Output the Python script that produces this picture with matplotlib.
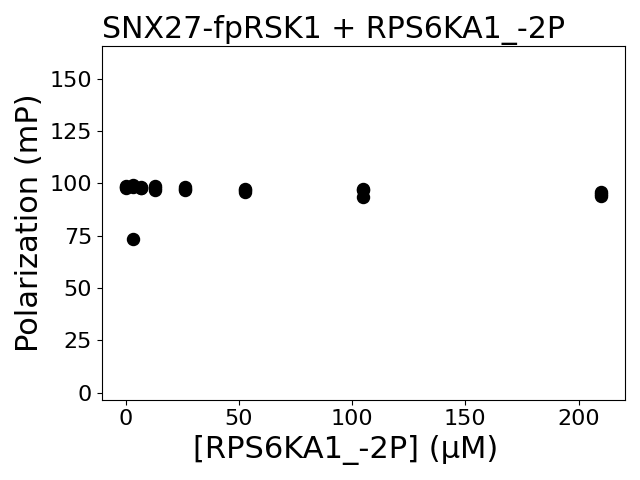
import matplotlib.pyplot as plt
import numpy as np

conc = [0, 3.28, 6.56, 13.125, 26.25, 52.5, 105, 210]
rep1 = [99.0, 99.5, 98.5, 99.0, 98.5, 97.5, 97.5, 96.0]
rep2 = [98.5, 98.5, 98.0, 97.0, 97.0, 96.0, 93.5, 94.0]
rep3 = [98.0, 73.5, 97.8, 98.0, 97.5, 97.0, 97.0, 95.0]

fig, ax = plt.subplots(figsize=(6.4, 4.8), dpi=100)
for rep in (rep1, rep2, rep3):
    ax.scatter(conc, rep, s=75, color="black")

ax.set_ylim(-3.3, 165.5)
ax.set_xlim(-10.5, 220.5)
ax.set_yticks(np.arange(0, 151, 25))
ax.set_xlabel("[RPS6KA1_-2P] (μM)", fontsize=22)
ax.set_ylabel("Polarization (mP)", fontsize=22)
ax.set_title("SNX27-fpRSK1 + RPS6KA1_-2P", fontsize=21.6, loc="left")
ax.tick_params(labelsize=16)
fig.tight_layout()
ax.xaxis.set_label_coords(0.465, -0.1)
ax.xaxis.label.set_va("top")
fig.savefig("out.png", dpi=100)
